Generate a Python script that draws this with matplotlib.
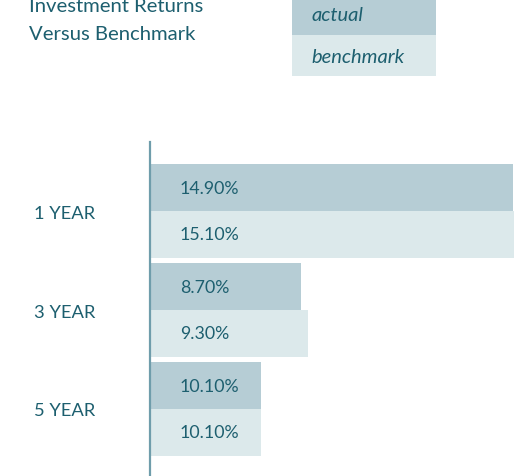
import matplotlib
matplotlib.use("Agg")
import matplotlib.pyplot as plt
from matplotlib.patches import Rectangle

# ---- data ----
categories = ["1 YEAR", "3 YEAR", "5 YEAR"]
actual_labels = ["14.90%", "8.70%", "10.10%"]
benchmark_labels = ["15.10%", "9.30%", "10.10%"]
# bar lengths as drawn in the reference (arbitrary units)
actual_bars = [363, 151, 111]
benchmark_bars = [364, 158, 111]
series_names = ["actual", "benchmark"]
title_lines = ["Investment Returns", "Versus Benchmark"]

# ---- style ----
W, H = 523, 477
C_ACT = "#b6cdd5"
C_BEN = "#dce9eb"
C_TEXT = "#1d5f6f"
C_AXIS = "#6f9dab"
FONT = "Lato"
FS = 12.8

plt.rcParams["font.family"] = [FONT, "DejaVu Sans"]

fig = plt.figure(figsize=(W / 100, H / 100), dpi=100)
fig.patch.set_facecolor("white")

ax_left, ax_top = 150, 143
ax = fig.add_axes([ax_left / W, 0, (W - ax_left) / W, (H - ax_top) / H])
pitch = 99.0
first = 69.0
ax_h = H - ax_top
ax.set_ylim(-first / pitch + ax_h / pitch, -first / pitch)
ax.set_xlim(0, W - ax_left)

bh = 46.7 / pitch
ys = list(range(len(categories)))
ax.barh([y - bh / 2 for y in ys], actual_bars, height=bh, color=C_ACT, linewidth=0)
ax.barh([y + bh / 2 for y in ys], benchmark_bars, height=bh, color=C_BEN, linewidth=0)

for y, la, lb in zip(ys, actual_labels, benchmark_labels):
    ax.text(30, y - bh / 2, la, ha="left", va="center", color=C_TEXT, fontsize=FS)
    ax.text(30, y + bh / 2, lb, ha="left", va="center", color=C_TEXT, fontsize=FS)

ax.set_yticks(ys)
ax.set_yticklabels(categories, color=C_TEXT, fontsize=13.2)
ax.tick_params(axis="y", length=0, pad=(ax_left - 95) * 0.72)
ax.set_xticks([])
for s in ["top", "right", "bottom"]:
    ax.spines[s].set_visible(False)
ax.spines["left"].set_color(C_AXIS)
ax.spines["left"].set_linewidth(1.6)

# ---- title ----
fig.text(29 / W, 1 - 12 / H, title_lines[0], ha="left", va="baseline",
         color=C_TEXT, fontsize=14.6)
fig.text(29 / W, 1 - 40 / H, title_lines[1], ha="left", va="baseline",
         color=C_TEXT, fontsize=14.6)

# ---- legend ----
lx0, lx1 = 292, 436
boxes = [(0, 36, C_ACT), (36, 77, C_BEN)]
baselines = [20.7, 63.3]
for (y0, y1, c), name, bl in zip(boxes, series_names, baselines):
    fig.add_artist(Rectangle((lx0 / W, 1 - y1 / H), (lx1 - lx0) / W, (y1 - y0) / H,
                             transform=fig.transFigure, facecolor=c, edgecolor="none"))
    fig.text(311 / W, 1 - bl / H, name, ha="left", va="baseline",
             color=C_TEXT, fontsize=14.5, style="italic")

fig.savefig("out.png", dpi=100)
